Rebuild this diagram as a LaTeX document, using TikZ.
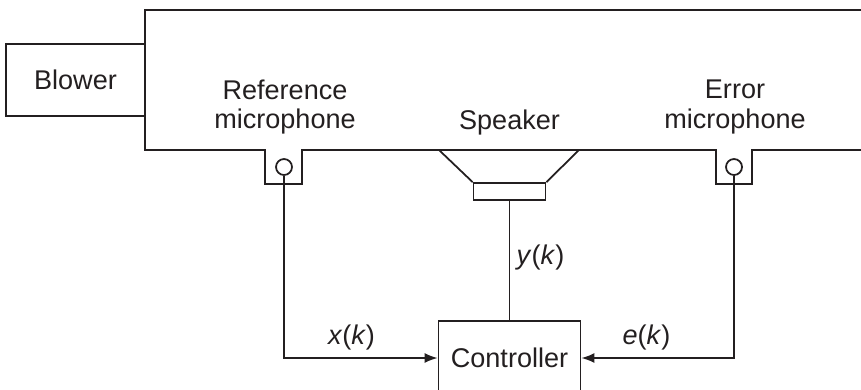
\documentclass[tikz,border=0pt]{standalone}
\usepackage{fontspec}
\setmainfont{Liberation Sans}
\usetikzlibrary{arrows.meta,positioning,calc}
\definecolor{LineColor}{RGB}{35,31,32}
\tikzset{
  every node/.style={text=LineColor, font=\fontsize{15.4}{17}\selectfont},
  boxnode/.style={draw=LineColor, line width=1pt, inner sep=0pt},
  micnode/.style={draw=LineColor, line width=1pt, circle, inner sep=0pt, minimum size=0.32cm},
  labelnode/.style={align=center, inner sep=0pt},
  wire/.style={draw=LineColor, line width=1pt},
  signal/.style={wire, -{Latex[length=2.6mm,width=2mm]}}
}
\begin{document}
\begin{tikzpicture}[x=0.02cm, y=-0.02cm]
        \useasboundingbox (0,0) rectangle (861,389);
        \clip (0,0) rectangle (861,389);
        % duct with the two pockets
        \draw[wire] (861,10)--(145,10)--(145,150)--(265,150)--(265,184)--(302,184)--(302,150)--(716,150)--(716,184)--(752,184)--(752,150)--(861,150);
        \node[boxnode, minimum width=2.78cm, minimum height=1.44cm] (blower) at (75.5,80) {Blower};
        \node[labelnode] (reflabel) at (285,107) {Reference\\microphone};
        \node[labelnode] (speakerlabel) at (509.5,122) {Speaker};
        \node[labelnode] (errlabel) at (735,107) {Error\\microphone};
        \node[micnode] (refmic) at (284,167) {};
        \node[micnode] (errmic) at (734,167) {};
        % speaker
        \node[boxnode, minimum width=1.44cm, minimum height=0.34cm] (speakerbox) at (509.5,191.5) {};
        \draw[wire] (439,150)--(speakerbox.north west);
        \draw[wire] (579,150)--(speakerbox.north east);
        \node[boxnode, minimum width=2.84cm, minimum height=1.48cm] (controller) at (509.5,358) {Controller};
        \draw[wire] (speakerbox.south)--(controller.north);
        \draw[signal] (refmic.south) |- (controller.west);
        \draw[signal] (errmic.south) |- (controller.east);
        \node[labelnode] (xlabel) at (351.5,337) {\textit{x}(\textit{k})};
        \node[labelnode] (ylabel) at (540.5,257) {\textit{y}(\textit{k})};
        \node[labelnode] (elabel) at (646.5,337) {\textit{e}(\textit{k})};
      \end{tikzpicture}
\end{document}
